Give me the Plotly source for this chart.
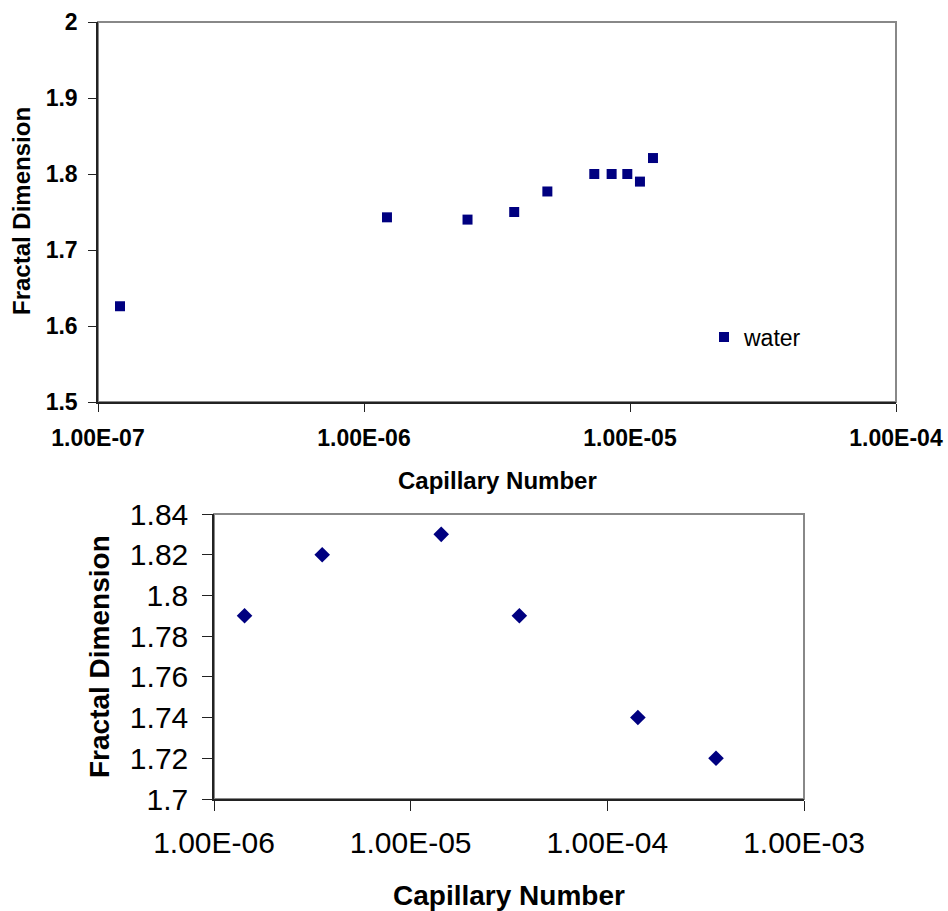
import plotly.graph_objects as go

# ---- data: top chart (water) ----
water_ca = [1.21e-7, 1.22e-6, 2.45e-6, 3.67e-6, 4.89e-6, 7.34e-6, 8.53e-6, 9.77e-6, 1.09e-5, 1.22e-5]
water_fd = [1.626, 1.743, 1.740, 1.750, 1.777, 1.800, 1.800, 1.800, 1.790, 1.821]

# ---- data: bottom chart ----
ca2 = [1.43e-6, 3.55e-6, 1.43e-5, 3.57e-5, 1.43e-4, 3.57e-4]
fd2 = [1.79, 1.82, 1.83, 1.79, 1.74, 1.72]

# ---- tick labels ----
top_xticks = [1e-7, 1e-6, 1e-5, 1e-4]
top_xtext = ["1.00E-07", "1.00E-06", "1.00E-05", "1.00E-04"]
top_yticks = [1.5, 1.6, 1.7, 1.8, 1.9, 2.0]
top_ytext = ["1.5", "1.6", "1.7", "1.8", "1.9", "2"]
bot_xticks = [1e-6, 1e-5, 1e-4, 1e-3]
bot_xtext = ["1.00E-06", "1.00E-05", "1.00E-04", "1.00E-03"]
bot_yticks = [1.70, 1.72, 1.74, 1.76, 1.78, 1.80, 1.82, 1.84]
bot_ytext = ["1.7", "1.72", "1.74", "1.76", "1.78", "1.8", "1.82", "1.84"]

W, H = 948, 911
NAVY = "#000080"
FONT = "Liberation Sans, Arial, sans-serif"

def px_x(v):
    return v / W

def px_y(v):
    return 1 - v / H

fig = go.Figure()
fig.add_trace(go.Scatter(
    x=water_ca, y=water_fd, mode="markers", name="water",
    marker=dict(symbol="square", size=10, color=NAVY),
    xaxis="x", yaxis="y", showlegend=True))
fig.add_trace(go.Scatter(
    x=ca2, y=fd2, mode="markers", name="series2",
    marker=dict(symbol="diamond", size=12, color=NAVY),
    xaxis="x2", yaxis="y2", showlegend=False))

top_x_dom = [px_x(98), px_x(896)]
top_y_dom = [px_y(402), px_y(22)]
bot_x_dom = [px_x(214), px_x(804)]
bot_y_dom = [px_y(799), px_y(514)]

axis_common = dict(showgrid=False, zeroline=False, showline=True, linecolor="#222222",
                   linewidth=1.5, ticks="outside", tickcolor="#222222", mirror=False,
                   automargin=False)

fig.update_layout(
    template="none",
    width=W, height=H,
    margin=dict(l=0, r=0, t=0, b=0, autoexpand=False),
    paper_bgcolor="white", plot_bgcolor="white",
    font=dict(family=FONT, color="black"),
    xaxis=dict(type="log", domain=top_x_dom, range=[-7, -4], anchor="y",
               tickvals=top_xticks, ticktext=top_xtext, ticklen=8,
               tickfont=dict(size=23, weight="bold", family=FONT), ticklabelstandoff=7,
               **axis_common),
    yaxis=dict(domain=top_y_dom, range=[1.5, 2.0], anchor="x",
               tickvals=top_yticks, ticktext=top_ytext, ticklen=8,
               tickfont=dict(size=23, weight="bold", family=FONT), ticklabelstandoff=6,
               **axis_common),
    xaxis2=dict(type="log", domain=bot_x_dom, range=[-6, -3], anchor="y2",
                tickvals=bot_xticks, ticktext=bot_xtext, ticklen=10,
                tickfont=dict(size=30, family=FONT), ticklabelstandoff=6,
                **axis_common),
    yaxis2=dict(domain=bot_y_dom, range=[1.70, 1.84], anchor="x2",
                tickvals=bot_yticks, ticktext=bot_ytext, ticklen=10,
                tickfont=dict(size=30, family=FONT), ticklabelstandoff=8,
                **axis_common),
    legend=dict(x=px_x(704), y=px_y(337), xanchor="left", yanchor="middle",
                bgcolor="rgba(0,0,0,0)", font=dict(size=23, family=FONT),
                itemwidth=30),
    showlegend=True,
)

# plot-area borders (gray frame as in the original)
for xd, yd in [(top_x_dom, top_y_dom), (bot_x_dom, bot_y_dom)]:
    fig.add_shape(type="rect", xref="paper", yref="paper",
                  x0=xd[0], x1=xd[1], y0=yd[0], y1=yd[1],
                  line=dict(color="#888888", width=2), layer="below")

# axis titles
fig.add_annotation(text="Capillary Number", xref="paper", yref="paper",
                   x=sum(top_x_dom) / 2, y=px_y(480), showarrow=False,
                   font=dict(size=24, weight="bold", family=FONT),
                   xanchor="center", yanchor="middle")
fig.add_annotation(text="Fractal Dimension", xref="paper", yref="paper",
                   x=px_x(22), y=px_y(211), showarrow=False, textangle=-90,
                   font=dict(size=24, weight="bold", family=FONT),
                   xanchor="center", yanchor="middle")
fig.add_annotation(text="Capillary Number", xref="paper", yref="paper",
                   x=sum(bot_x_dom) / 2, y=px_y(895), showarrow=False,
                   font=dict(size=28, weight="bold", family=FONT),
                   xanchor="center", yanchor="middle")
fig.add_annotation(text="Fractal Dimension", xref="paper", yref="paper",
                   x=px_x(99), y=px_y(657), showarrow=False, textangle=-90,
                   font=dict(size=28, weight="bold", family=FONT),
                   xanchor="center", yanchor="middle")

fig.write_html("out.html")
